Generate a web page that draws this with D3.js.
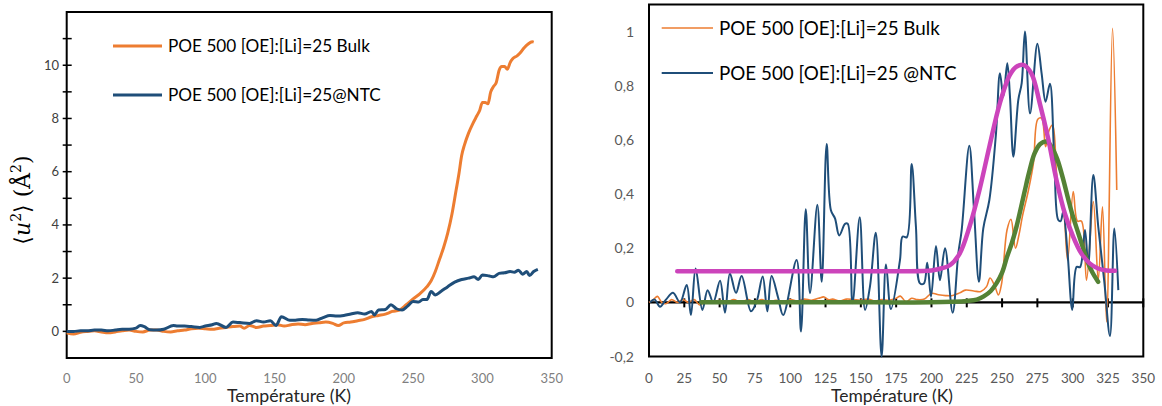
<!DOCTYPE html>
<html><head><meta charset="utf-8">
<script src="https://cdn.jsdelivr.net/npm/d3@7"></script>
<style>body{margin:0;background:#fff}svg{display:block}text{font-family:Lato,"Open Sans",sans-serif}</style>
</head><body>
<svg id="c" width="1162" height="406"></svg>
<script>
// ---------- DATA ----------
const legendLabelsLeft = ["POE 500 [OE]:[Li]=25 Bulk", "POE 500 [OE]:[Li]=25@NTC"];
const legendLabelsRight = ["POE 500 [OE]:[Li]=25 Bulk", "POE 500 [OE]:[Li]=25 @NTC"];
const xTitle = "Température (K)";
const leftXTicks = [0,50,100,150,200,250,300,350];
const leftYTicks = [0,2,4,6,8,10];
const rightXTicks = [0,25,50,75,100,125,150,175,200,225,250,275,300,325,350];
const rightYTicks = [-0.2,0,0.2,0.4,0.6,0.8,1];

// Left panel: <u^2> vs T
const leftBulkT = [0,5,10,15,20,25,30,35,40,45,50,55,60,65,70,75,80,85,90,95,100,105,110,115,120,125,128,132,137,142,147,152,157,162,167,172,177,182,187,192,196,200,205,210,215,220,225,230,235,240,245,250,255,260,263,266,269,272,275,278,281,283,285,287,290,293,296,298,300,302,304,306,308,310,312,314,316,318,320,322,325,327,330,333,336,337];
const leftBulkV = [-0.05,-0.1,-0.03,0.0,0.02,-0.02,-0.05,-0.02,0.02,0.05,0.0,-0.02,0.05,0.05,0.0,-0.02,0.02,0.05,0.1,0.12,0.1,0.08,0.12,0.15,0.18,0.2,0.12,0.22,0.15,0.2,0.22,0.25,0.2,0.25,0.28,0.25,0.3,0.32,0.35,0.3,0.22,0.32,0.35,0.4,0.45,0.55,0.6,0.65,0.75,0.8,1.0,1.22,1.42,1.68,1.9,2.25,2.7,3.15,3.7,4.4,5.3,5.9,6.6,7.0,7.45,7.8,8.1,8.3,8.6,8.6,8.55,9.0,9.2,9.35,9.8,9.95,9.95,9.85,10.1,10.25,10.35,10.45,10.65,10.8,10.88,10.87];
const leftNtcT = [0,5,10,15,20,25,30,35,40,45,50,53,56,60,65,70,77,80,85,90,96,100,105,108,115,120,125,132,137,142,147,151,155,161,165,170,175,180,185,190,195,200,205,210,215,220,222,225,230,234,238,242,246,250,254,257,260,263,266,270,275,280,285,290,294,297,300,305,308,312,316,320,323,326,329,332,334,337,340];
const leftNtcV = [0.0,0.0,0.02,0.02,0.05,0.05,0.02,0.05,0.08,0.08,0.12,0.22,0.18,0.06,0.05,0.08,0.22,0.2,0.2,0.18,0.15,0.2,0.25,0.3,0.15,0.35,0.33,0.3,0.4,0.35,0.4,0.22,0.55,0.42,0.42,0.45,0.43,0.42,0.52,0.6,0.58,0.6,0.65,0.7,0.65,0.75,0.62,0.8,0.82,1.0,0.85,0.8,0.95,1.12,1.1,1.2,1.2,1.5,1.37,1.5,1.68,1.85,1.95,2.0,2.05,1.95,2.12,2.08,2.05,2.18,2.2,2.25,2.22,2.3,2.15,2.25,2.1,2.25,2.33];

// Right panel: normalised signal vs T
const rightBulkT = [0,3,6,9,12,16,20,24,28,32,36,40,45,50,55,60,65,70,75,80,85,90,95,100,105,110,115,120,124,127,130,135,140,145,150,155,160,165,170,175,178,182,186,190,195,200,205,210,215,220,224,230,235,239,241.5,245,247.4,249.7,253.5,256.3,259.5,262,264.5,268.7,272.2,275.3,278,280.8,283.4,285.8,288.6,291,293.3,296.4,300.4,303.4,306.2,309.8,314.6,318.1,321.1,324,328.2,331.2];
const rightBulkV = [0,0.01,0.022,0.0,-0.005,0.01,0.0,0.01,0.0,0.01,-0.01,0.005,0.0,0.008,0.0,0.01,0.0,0.01,0.002,0.01,0.0,0.008,0.0,0.01,0.005,0.012,0.008,0.015,0.02,0.01,0.012,0.005,0.012,0.01,0.008,0.012,0.005,0.01,0.008,0.015,0.023,0.002,0.015,0.01,0.012,0.033,0.028,0.025,0.025,0.035,0.045,0.042,0.04,0.058,0.09,0.058,0.027,0.07,0.267,0.307,0.2,0.25,0.32,0.415,0.514,0.676,0.68,0.575,0.637,0.655,0.477,0.38,0.35,0.156,0.409,0.3,0.3,0.082,0.372,0.082,0.353,-0.072,1.012,0.415];
const rightNtcT = [0.7,4,7.8,12,17,22,26.7,29.7,33,37.8,41.5,45.5,50.3,53.8,57.3,61.6,65.6,72.2,76.2,80.5,83.8,86.8,91.3,95,104.5,107.6,111,114,119.2,122.3,125.8,128.8,131.7,134.7,138.8,140.7,144.1,149.2,153,156.5,160.6,164.7,167.8,171.3,177.7,179.6,182.5,186,189,191.9,194.7,197,199.7,203.2,206,209.6,215,219,221.4,226.8,230,233.6,236.7,241,245.7,248.5,250.9,253.7,255.6,258,261.5,263.9,266.2,269.8,275,278,280.8,283.9,287,289.8,291.5,293.3,296.4,299.7,302.8,305.2,308.7,311,314.6,318.1,322.4,326.4,329.5,332.3];
const rightNtcV = [0,0.01,-0.016,0.01,0.035,0.0,0.064,-0.047,0.125,-0.028,0.045,0.0,0.08,-0.038,0.107,0.035,0.097,-0.033,0.003,0.095,-0.033,0.097,0.02,-0.047,0.156,-0.108,0.344,0.034,0.36,0.076,0.585,0.34,0.31,0.247,0.29,0.29,-0.003,0.314,-0.028,0.06,0.257,-0.2,0.14,-0.025,0.156,0.243,0.24,0.511,0.28,0.07,0.07,0.146,0.021,0.208,0.082,0.2,-0.038,0.18,0.267,0.578,0.353,0.076,0.273,0.378,0.624,0.846,0.76,0.883,0.76,0.538,0.748,0.81,1.0,0.698,0.955,0.846,0.741,0.807,0.526,0.304,0.3,0.335,0.18,-0.028,0.131,0.13,0.267,0.135,0.47,0.28,0.076,-0.124,0.273,0.045];
// Fitted curves
const fitNtcT = [20,60,100,140,180,200,206,213,220,227,234,241,248.4,255.5,260,265,270.8,276.7,282.6,288.5,294.4,300.3,306.2,312,318,324,330];
const fitNtcV = [0.115,0.115,0.115,0.115,0.115,0.118,0.124,0.137,0.18,0.28,0.415,0.575,0.735,0.84,0.87,0.877,0.845,0.735,0.606,0.452,0.329,0.243,0.18,0.144,0.125,0.118,0.117];
const fitBulkT = [37,80,120,160,200,215,225,232,237,242,246,250,253.5,257,260,263,266,269,273,277,281.5,285,289,293,297,300,304,308,311,314,318];
const fitBulkV = [0,0,0,0,0,0.002,0.005,0.01,0.022,0.042,0.07,0.11,0.168,0.22,0.275,0.341,0.41,0.477,0.55,0.585,0.594,0.575,0.53,0.46,0.378,0.32,0.255,0.19,0.144,0.11,0.076];

// ---------- DRAW ----------
const svg = d3.select("#c");
svg.append("rect").attr("width",1162).attr("height",406).attr("fill","#fff");
const ORANGE = "#ED7D31", BLUE = "#1F4E79", PINK = "#CC44BB", GREEN = "#548235";
const zip = (a,b) => a.map((t,i)=>[t,b[i]]);
// scale a text's font size so it spans the given width
function fitWidth(sel, w){
  const n = sel.node(); const fs = +sel.attr("font-size");
  const cur = n.getComputedTextLength();
  if (cur > 0) sel.attr("font-size", fs * w / cur);
  return sel;
}

// Left panel
const xL = d3.scaleLinear().domain([0,350]).range([66.7,551.7]);
const yL = d3.scaleLinear().domain([-1,12]).range([358,12]);
const gL = svg.append("g");
gL.append("rect").attr("x",xL(0)).attr("y",yL(12)).attr("width",xL(350)-xL(0)).attr("height",yL(-1)-yL(12))
  .attr("fill","none").attr("stroke","#000").attr("stroke-width",2);
gL.selectAll(".yt").data(d3.range(0,12)).join("line")
  .attr("x1",xL(0)-4).attr("x2",xL(0)+5).attr("y1",d=>yL(d)).attr("y2",d=>yL(d))
  .attr("stroke","#000").attr("stroke-width",1.5);
gL.selectAll(".yl").data(leftYTicks).join("text")
  .attr("x",59).attr("y",d=>yL(d)+4.5).attr("text-anchor","end")
  .attr("font-size",13).attr("fill","#404040").text(d=>d);
gL.selectAll(".xl").data(leftXTicks).join("text")
  .attr("x",d=>xL(d)).attr("y",383).attr("text-anchor","middle")
  .attr("font-size",13).attr("fill","#7f7f7f").text(d=>d);
fitWidth(gL.append("text").attr("x",289).attr("y",402).attr("text-anchor","middle")
  .attr("font-size",16.5).attr("fill","#262626").text(xTitle), 124);
const yTitle = gL.append("text").attr("transform","translate(30,200) rotate(-90)")
  .attr("text-anchor","middle").attr("font-size",22).attr("fill","#000")
  .style("font-family","'DejaVu Serif','Liberation Serif',serif");
yTitle.append("tspan").text("\u27E8");
yTitle.append("tspan").attr("font-style","italic").text("u");
yTitle.append("tspan").attr("dy",-9).attr("font-size",14).text("2");
yTitle.append("tspan").attr("dy",9).text("\u27E9 (\u00C5");
yTitle.append("tspan").attr("dy",-9).attr("font-size",14).text("2");
yTitle.append("tspan").attr("dy",9).text(")");

const lineL = d3.line().x(d=>xL(d[0])).y(d=>yL(d[1])).curve(d3.curveMonotoneX);
gL.append("path").attr("d",lineL(zip(leftBulkT,leftBulkV))).attr("fill","none").attr("stroke",ORANGE).attr("stroke-width",3);
gL.append("path").attr("d",lineL(zip(leftNtcT,leftNtcV))).attr("fill","none").attr("stroke",BLUE).attr("stroke-width",3);
// legend
let lfs = 17;
[[ORANGE,46],[BLUE,95]].forEach(([c,y],i)=>{
  gL.append("line").attr("x1",113).attr("x2",162).attr("y1",y).attr("y2",y).attr("stroke",c).attr("stroke-width",3);
  const t = gL.append("text").attr("x",168).attr("y",y+6).attr("font-size",lfs).attr("fill","#000").text(legendLabelsLeft[i]);
  if (i===0) { fitWidth(t, 202); lfs = +t.attr("font-size"); }
});

// Right panel
const xR = d3.scaleLinear().domain([0,350]).range([649,1143.3]);
const yR = d3.scaleLinear().domain([-0.2,1.1]).range([356.5,4.5]);
const gR = svg.append("g");
gR.append("rect").attr("x",xR(0)).attr("y",yR(1.1)).attr("width",xR(350)-xR(0)).attr("height",yR(-0.2)-yR(1.1))
  .attr("fill","none").attr("stroke","#000").attr("stroke-width",2);
const fmt = d => d3.format(".1~f")(d).replace(".",",").replace("\u2212","-");
gR.selectAll(".yl").data(rightYTicks).join("text")
  .attr("x",634).attr("y",d=>yR(d)+5).attr("text-anchor","end")
  .attr("font-size",14).attr("fill","#595959").text(fmt);
gR.selectAll(".xl").data(rightXTicks).join("text")
  .attr("x",d=>xR(d)).attr("y",383).attr("text-anchor","middle")
  .attr("font-size",13.5).attr("fill","#595959").text(d=>d);
fitWidth(gR.append("text").attr("x",892).attr("y",402).attr("text-anchor","middle")
  .attr("font-size",16.5).attr("fill","#262626").text(xTitle), 122);
// zero axis
gR.append("line").attr("x1",xR(0)).attr("x2",xR(350)).attr("y1",yR(0)).attr("y2",yR(0)).attr("stroke","#000").attr("stroke-width",2.2);
gR.selectAll(".xt").data(rightXTicks).join("line")
  .attr("x1",d=>xR(d)).attr("x2",d=>xR(d)).attr("y1",yR(0)-4).attr("y2",yR(0)+5)
  .attr("stroke","#000").attr("stroke-width",2);
const lineR = d3.line().x(d=>xR(d[0])).y(d=>yR(d[1])).curve(d3.curveCatmullRom);
gR.append("path").attr("d",lineR(zip(rightBulkT,rightBulkV))).attr("fill","none").attr("stroke",ORANGE).attr("stroke-width",1.6);
gR.append("path").attr("d",lineR(zip(rightNtcT,rightNtcV))).attr("fill","none").attr("stroke",BLUE).attr("stroke-width",2);
gR.append("path").attr("d",lineR(zip(fitBulkT,fitBulkV))).attr("fill","none").attr("stroke",GREEN).attr("stroke-width",4.5).attr("stroke-linecap","round");
gR.append("path").attr("d",lineR(zip(fitNtcT,fitNtcV))).attr("fill","none").attr("stroke",PINK).attr("stroke-width",4.5).attr("stroke-linecap","round");
let rfs = 18.5;
[[ORANGE,28,1.6],[BLUE,73,2]].forEach(([c,y,w],i)=>{
  gR.append("line").attr("x1",661.7).attr("x2",713).attr("y1",y).attr("y2",y).attr("stroke",c).attr("stroke-width",w);
  const t = gR.append("text").attr("x",719).attr("y",y+6.5).attr("font-size",rfs).attr("fill","#000").text(legendLabelsRight[i]);
  if (i===0) { fitWidth(t, 221); rfs = +t.attr("font-size"); }
});
</script>
</body></html>
